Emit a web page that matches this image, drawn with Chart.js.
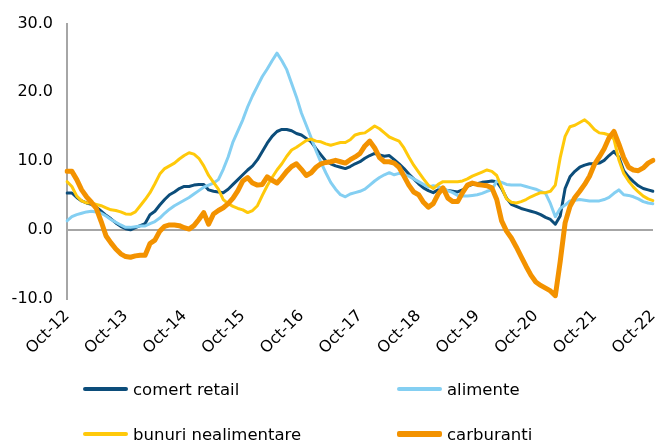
<!DOCTYPE html>
<html>
<head>
<meta charset="utf-8">
<script src="https://cdn.jsdelivr.net/npm/chart.js@4.4.0/dist/chart.umd.min.js"></script>
<style>
  body { margin: 0; background: #fff; }
  #wrap { position: relative; width: 656px; height: 443px; }
  #legend .leg { position: absolute; height: 20px; display: flex; align-items: center;
    font: 16.5px "DejaVu Sans"; color: #000; white-space: nowrap; }
  #legend .leg i { display: inline-block; width: 45px; margin-right: 5px; border-radius: 2px; }
</style>
</head>
<body>
<div id="wrap">
  <canvas id="chart" width="656" height="443"></canvas>
  <div id="legend"></div>
</div>
<script>
// monthly data, Oct-12 .. Oct-22
const tickLabels = ["Oct-12","Oct-13","Oct-14","Oct-15","Oct-16","Oct-17","Oct-18","Oct-19","Oct-20","Oct-21","Oct-22"];
const monthNames = ["Jan","Feb","Mar","Apr","May","Jun","Jul","Aug","Sep","Oct","Nov","Dec"];

const comertRetail = [
  5.35,5.35,4.7,4.2,3.9,3.7,3.3,2.7,2.1,1.6,
  1.0,0.5,0.15,0.0,0.3,0.6,0.9,2.2,2.7,3.6,
  4.4,5.1,5.5,6.0,6.3,6.3,6.5,6.6,6.6,5.8,
  5.6,5.5,5.4,5.9,6.6,7.3,8.0,8.7,9.3,10.2,
  11.4,12.6,13.6,14.3,14.6,14.6,14.4,14.0,13.8,13.3,
  12.8,11.8,10.9,10.0,9.6,9.3,9.1,8.9,9.2,9.6,
  9.9,10.4,10.8,11.1,10.9,10.7,10.8,10.2,9.6,8.9,
  8.1,7.4,6.7,6.1,5.7,5.4,5.8,5.9,5.7,5.6,
  5.5,5.8,6.3,6.6,6.7,6.9,7.0,7.1,7.0,6.0,
  4.6,3.7,3.4,3.1,2.9,2.7,2.5,2.2,1.8,1.5,
  0.8,2.0,6.0,7.7,8.5,9.1,9.4,9.6,9.6,9.7,
  10.1,10.8,11.4,10.6,8.6,7.7,7.0,6.4,6.0,5.8,
  5.6
];
const alimente = [
  1.3,1.9,2.2,2.4,2.6,2.7,2.6,2.4,2.0,1.5,
  1.1,0.7,0.35,0.35,0.45,0.55,0.55,0.9,1.2,1.7,
  2.4,3.0,3.5,3.9,4.3,4.7,5.2,5.7,6.2,6.5,
  6.8,7.3,8.8,10.6,12.8,14.4,16.0,17.9,19.5,20.9,
  22.3,23.4,24.6,25.7,24.6,23.3,21.3,19.3,17.0,15.2,
  13.4,11.5,9.8,8.3,6.9,5.9,5.1,4.8,5.2,5.4,
  5.6,5.9,6.5,7.1,7.6,8.0,8.3,8.0,8.2,8.0,
  7.8,7.4,7.0,6.6,6.2,6.4,6.3,6.0,5.7,5.4,
  5.0,4.9,4.9,5.0,5.1,5.3,5.6,5.8,7.1,6.9,
  6.6,6.5,6.5,6.5,6.3,6.1,5.9,5.6,5.3,3.8,
  1.9,3.1,3.6,4.2,4.3,4.4,4.3,4.2,4.2,4.2,
  4.4,4.7,5.3,5.8,5.1,5.0,4.8,4.5,4.1,3.9,
  3.8
];
const bunuriNealimentare = [
  7.0,6.3,4.9,4.2,3.9,3.9,3.7,3.5,3.2,2.9,
  2.8,2.6,2.3,2.25,2.6,3.5,4.4,5.4,6.7,8.1,
  8.9,9.3,9.7,10.3,10.8,11.2,11.0,10.4,9.3,7.9,
  6.9,5.9,4.4,3.8,3.4,3.1,2.9,2.5,2.8,3.5,
  5.0,6.4,7.6,8.7,9.6,10.7,11.6,12.0,12.5,13.0,
  13.2,12.9,12.8,12.5,12.3,12.5,12.7,12.7,13.1,13.8,
  14.0,14.1,14.6,15.1,14.7,14.1,13.5,13.2,12.9,11.9,
  10.6,9.4,8.4,7.4,6.5,6.0,6.6,7.0,7.0,7.0,
  7.0,7.1,7.4,7.8,8.1,8.4,8.7,8.5,7.9,6.2,
  4.5,4.0,3.9,4.1,4.4,4.8,5.1,5.4,5.4,5.6,
  6.5,10.5,13.6,15.0,15.2,15.6,16.0,15.4,14.6,14.1,
  14.0,13.8,13.2,10.2,8.2,7.1,6.2,5.5,4.9,4.5,
  4.25
];
const carburanti = [
  8.5,8.5,7.3,5.8,4.8,4.0,3.1,1.2,-0.9,-1.9,
  -2.8,-3.5,-3.9,-4.0,-3.8,-3.7,-3.7,-2.0,-1.5,-0.2,
  0.5,0.7,0.7,0.6,0.3,0.1,0.6,1.5,2.5,0.8,
  2.3,2.8,3.2,3.8,4.6,5.7,7.1,7.6,6.8,6.5,
  6.6,7.7,7.2,6.8,7.6,8.5,9.2,9.6,8.8,7.9,
  8.3,9.1,9.6,9.8,9.9,10.1,9.9,9.7,10.2,10.6,
  11.1,12.2,12.9,11.9,10.5,9.9,9.9,9.7,9.1,7.8,
  6.5,5.5,5.1,4.0,3.3,3.8,5.2,6.1,4.6,4.1,
  4.1,5.4,6.5,6.8,6.6,6.5,6.4,6.1,4.4,1.3,
  -0.2,-1.2,-2.5,-3.9,-5.3,-6.6,-7.6,-8.1,-8.5,-8.9,
  -9.6,-4.6,1.0,3.4,4.7,5.6,6.6,7.8,9.5,10.6,
  11.8,13.4,14.3,12.5,10.5,9.1,8.7,8.6,9.0,9.7,
  10.1
];

const months = comertRetail.map((_, i) => {
  const m = 9 + i;
  return monthNames[m % 12] + "-" + (12 + Math.floor(m / 12));
});

const font = { family: "DejaVu Sans", size: 16 };

const series = [
  { label: "comert retail", data: comertRetail, color: "#0c4d7a", width: 3, order: 3 },
  { label: "alimente", data: alimente, color: "#84cff2", width: 3, order: 2 },
  { label: "bunuri nealimentare", data: bunuriNealimentare, color: "#ffc90a", width: 3, order: 1 },
  { label: "carburanti", data: carburanti, color: "#f39200", width: 5, order: 0 }
];

new Chart(document.getElementById("chart"), {
  type: "line",
  data: {
    labels: months,
    datasets: series.map(s => ({
      label: s.label, data: s.data, borderColor: s.color, backgroundColor: s.color,
      borderWidth: s.width, order: s.order, pointRadius: 0, tension: 0,
      borderJoinStyle: "round", borderCapStyle: "round"
    }))
  },
  options: {
    responsive: false,
    animation: false,
    layout: { padding: { top: 19, right: 3, left: 0, bottom: 0 } },
    plugins: { legend: { display: false }, tooltip: { enabled: false } },
    scales: {
      x: {
        grid: { display: false, drawTicks: false },
        border: { display: false },
        ticks: {
          autoSkip: false, maxRotation: 45, minRotation: 45, padding: 8,
          font: font, color: "#000",
          callback: (v, i) => (i % 12 === 0 ? tickLabels[i / 12] : "")
        },
        afterFit: s => { s.height = 144.5; s.paddingLeft = 0; s.paddingRight = 0; }
      },
      y: {
        min: -10, max: 30,
        ticks: { stepSize: 10, padding: 14, font: font, color: "#000", callback: v => v.toFixed(1) },
        grid: { drawTicks: false, lineWidth: 2, color: c => (c.tick && c.tick.value === 0 ? "#a6a6a6" : "rgba(0,0,0,0)") },
        border: { color: "#a6a6a6", width: 2 },
        afterFit: s => { s.width = 67; }
      }
    }
  }
});

// legend, two columns like the original
const legend = document.getElementById("legend");
const pos = [[83, 379], [397, 379], [83, 424], [397, 424]];
series.forEach((s, i) => {
  const d = document.createElement("div");
  d.className = "leg";
  d.style.left = pos[i][0] + "px";
  d.style.top = pos[i][1] + "px";
  d.innerHTML = '<i style="height:' + (s.width + 1) + 'px;background:' + s.color + '"></i>' + s.label;
  legend.appendChild(d);
});
</script>
</body>
</html>
